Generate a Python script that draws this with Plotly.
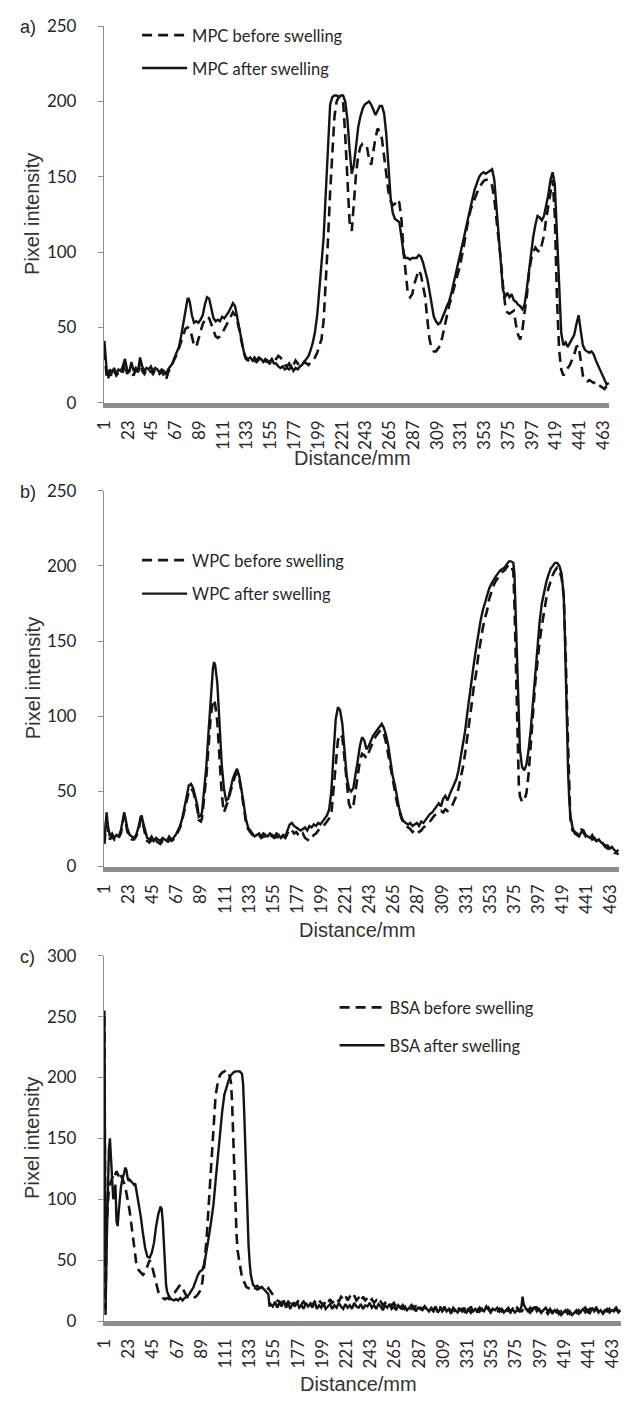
import plotly.graph_objects as go

# ---------------- data: (distance, pixel intensity) ----------------
MPC_BEFORE = [(1,35),(2,25),(3,18),(4,15),(6,20),(8,17),(10,21),(12,18),(14,20),(16,22),(18,20),(20,26),(22,19),(24,22),(26,20),(28,18),(30,22),(32,19),(34,27),(36,21),(38,19),(40,22),(42,20),(44,21),(46,19),(48,22),(50,20),(52,19),(54,21),(56,18),(58,15),(60,20),(62,23),(64,25),(66,29),(68,32),(70,36),(72,40),(74,45),(76,49),(78,50),(80,49),(82,44),(84,38),(86,37),(88,42),(90,48),(92,52),(94,55),(96,57),(98,56),(100,52),(102,47),(104,44),(106,43),(108,44),(110,46),(112,49),(114,52),(116,55),(118,58),(120,60),(122,58),(124,54),(126,48),(128,40),(130,33),(132,29),(134,28),(136,29),(138,27),(140,28),(142,27),(144,29),(146,27),(148,26),(150,28),(152,27),(154,26),(156,28),(158,27),(160,29),(162,31),(164,30),(166,28),(168,25),(170,24),(172,26),(174,23),(176,25),(178,28),(180,26),(182,24),(184,25),(186,27),(188,26),(190,25),(192,27),(194,28),(196,30),(198,33),(200,38),(202,42),(204,55),(206,79),(208,108),(210,140),(212,166),(214,190),(216,200),(218,203),(220,203),(222,200),(224,177),(226,145),(228,120),(230,114),(232,135),(234,152),(236,164),(238,170),(240,172),(242,172),(244,170),(246,162),(248,158),(250,168),(252,176),(254,182),(256,180),(258,175),(260,162),(262,150),(264,140),(266,134),(268,131),(270,132),(272,135),(274,133),(276,122),(278,100),(280,85),(282,72),(284,70),(286,72),(288,79),(290,84),(292,88),(294,85),(296,78),(298,70),(300,55),(302,42),(304,36),(306,34),(308,34),(310,36),(312,38),(314,44),(316,51),(318,58),(320,64),(322,69),(324,75),(326,80),(328,85),(330,90),(332,97),(334,105),(336,114),(338,122),(340,128),(342,132),(344,136),(346,140),(348,143),(350,145),(352,147),(354,148),(356,148),(358,147),(360,144),(362,135),(364,122),(366,110),(368,95),(370,78),(372,65),(374,60),(376,59),(378,60),(380,61),(382,52),(384,45),(386,42),(388,48),(390,60),(392,70),(394,85),(396,95),(398,100),(400,103),(402,101),(404,100),(406,105),(408,111),(410,122),(412,131),(414,142),(416,148),(418,125),(420,70),(422,35),(424,22),(426,18),(428,21),(430,23),(432,25),(434,28),(436,32),(438,37),(440,38),(442,28),(444,18),(446,15),(448,14),(450,15),(452,14),(454,13),(456,14),(458,12),(460,11),(462,10),(464,9),(466,11),(468,12)]

MPC_AFTER = [(1,41),(2,30),(3,22),(4,18),(6,22),(8,20),(10,23),(12,19),(14,22),(16,21),(18,24),(20,29),(22,22),(24,20),(26,27),(28,21),(30,23),(32,20),(34,30),(36,24),(38,21),(40,23),(42,22),(44,24),(46,21),(48,23),(50,22),(52,20),(54,22),(56,21),(58,19),(60,22),(62,24),(64,26),(66,30),(68,33),(70,37),(72,44),(74,52),(76,62),(78,69),(79,69),(80,67),(82,58),(84,53),(86,54),(88,53),(90,55),(92,58),(94,65),(96,70),(98,69),(100,62),(102,56),(104,54),(106,55),(108,54),(110,57),(112,56),(114,58),(116,60),(118,63),(120,66),(122,64),(124,57),(126,50),(128,42),(130,34),(132,30),(134,29),(136,30),(138,28),(140,30),(142,28),(144,30),(146,29),(148,27),(150,29),(152,28),(154,27),(156,29),(158,26),(160,26),(162,24),(164,23),(166,24),(168,22),(170,23),(172,22),(174,24),(176,21),(178,23),(180,22),(182,24),(184,25),(186,27),(188,29),(190,31),(192,35),(194,40),(196,47),(198,58),(200,75),(202,92),(204,110),(206,140),(208,175),(210,198),(212,203),(214,204),(216,204),(218,203),(220,204),(222,204),(224,200),(226,188),(228,168),(230,152),(232,158),(234,172),(236,183),(238,190),(240,195),(242,198),(244,199),(246,200),(248,198),(250,195),(252,191),(254,194),(256,197),(258,197),(260,192),(262,178),(264,155),(266,136),(268,126),(270,122),(272,121),(274,120),(276,110),(278,99),(280,96),(282,96),(284,95),(286,96),(288,96),(290,96),(292,98),(294,97),(296,93),(298,88),(300,82),(302,74),(304,64),(306,57),(308,54),(310,52),(312,53),(314,56),(316,60),(318,64),(320,67),(322,72),(324,78),(326,84),(328,90),(330,97),(332,103),(334,110),(336,117),(338,124),(340,130),(342,136),(344,142),(346,146),(348,150),(350,152),(352,153),(354,152),(356,153),(358,154),(360,155),(362,148),(364,130),(366,111),(368,90),(370,75),(372,70),(374,73),(376,70),(378,72),(380,68),(382,67),(384,65),(386,64),(388,62),(390,65),(392,75),(394,88),(396,100),(398,110),(400,118),(402,124),(404,123),(406,121),(408,124),(410,130),(412,138),(414,148),(416,153),(418,145),(420,110),(422,70),(424,46),(426,38),(428,40),(430,37),(432,40),(434,42),(436,45),(438,52),(440,58),(442,48),(444,38),(446,35),(448,34),(450,33),(452,34),(454,32),(456,28),(458,25),(460,21),(462,18),(464,15),(466,12),(468,13)]

WPC_BEFORE = [(1,15),(2,27),(3,33),(4,25),(5,20),(6,18),(8,20),(10,18),(12,20),(14,19),(16,22),(18,30),(19,34),(20,31),(22,23),(24,19),(26,18),(28,18),(30,20),(32,24),(34,31),(35,32),(36,28),(38,22),(40,17),(42,16),(44,18),(46,15),(48,17),(50,16),(52,15),(54,17),(56,16),(58,15),(60,18),(62,17),(64,18),(66,20),(68,23),(70,26),(72,31),(74,38),(76,45),(78,50),(80,52),(82,50),(84,44),(86,37),(87,31),(89,30),(90,32),(92,45),(94,60),(96,80),(98,100),(100,110),(101,111),(102,108),(104,96),(106,72),(108,48),(110,36),(112,40),(114,44),(116,50),(118,56),(120,60),(122,62),(124,58),(126,50),(128,40),(130,30),(132,25),(134,23),(136,21),(138,20),(140,20),(142,21),(144,19),(146,20),(148,20),(150,19),(152,21),(154,20),(156,19),(158,20),(160,19),(162,18),(164,20),(166,19),(168,22),(170,25),(172,24),(174,22),(176,23),(178,21),(180,20),(182,22),(184,19),(186,18),(188,17),(190,19),(192,21),(194,22),(196,24),(198,25),(200,27),(202,28),(204,30),(206,32),(208,35),(210,50),(212,70),(214,84),(216,88),(218,86),(220,72),(222,55),(224,42),(226,38),(228,40),(230,50),(232,62),(234,70),(236,75),(238,74),(240,72),(242,76),(244,80),(246,83),(248,86),(250,88),(252,90),(254,91),(256,88),(258,82),(260,74),(262,64),(264,57),(266,50),(268,42),(270,37),(272,32),(274,29),(276,27),(278,26),(280,25),(282,23),(284,24),(286,22),(288,23),(290,24),(292,26),(294,27),(296,29),(298,30),(300,32),(302,34),(304,35),(306,36),(308,37),(310,36),(312,38),(314,37),(316,39),(318,40),(320,43),(322,47),(324,52),(326,58),(328,66),(330,75),(332,85),(334,96),(336,108),(338,120),(340,128),(342,140),(344,150),(346,158),(348,165),(350,170),(352,178),(354,183),(356,187),(358,190),(360,192),(362,194),(364,196),(366,197),(368,199),(370,201),(372,200),(374,196),(375,175),(376,145),(377,105),(378,72),(379,55),(380,47),(382,43),(384,44),(386,49),(388,62),(390,80),(392,102),(394,122),(396,138),(398,150),(400,160),(402,170),(404,178),(406,185),(408,190),(410,194),(412,197),(414,199),(416,197),(418,192),(420,180),(421,160),(422,135),(423,105),(424,75),(425,50),(426,32),(428,24),(430,23),(432,22),(434,21),(436,25),(438,22),(440,20),(442,21),(444,20),(446,18),(448,19),(450,17),(452,16),(454,17),(456,15),(458,13),(460,12),(462,11),(464,10),(466,9),(468,9),(470,8)]

WPC_AFTER = [(1,17),(2,30),(3,36),(4,28),(5,22),(6,20),(8,22),(10,19),(12,21),(14,20),(16,24),(18,32),(19,36),(20,33),(22,25),(24,21),(26,20),(28,19),(30,21),(32,26),(34,33),(35,34),(36,30),(38,24),(40,19),(42,18),(44,20),(46,17),(48,19),(50,18),(52,17),(54,19),(56,18),(58,17),(60,20),(62,18),(64,19),(66,21),(68,24),(70,27),(72,32),(74,40),(76,47),(78,54),(80,55),(82,52),(84,46),(86,40),(87,33),(89,34),(90,36),(92,52),(94,67),(96,90),(98,115),(100,132),(101,136),(102,134),(104,122),(106,95),(108,68),(110,52),(112,44),(114,45),(116,52),(118,58),(120,62),(122,65),(124,60),(126,52),(128,42),(130,32),(132,26),(134,24),(136,22),(138,20),(140,21),(142,22),(144,20),(146,22),(148,21),(150,20),(152,22),(154,21),(156,20),(158,22),(160,21),(162,19),(164,21),(166,20),(168,24),(170,28),(172,29),(174,27),(176,26),(178,25),(180,24),(182,25),(184,26),(186,24),(188,27),(190,26),(192,28),(194,27),(196,29),(198,28),(200,30),(202,32),(204,34),(206,38),(208,50),(210,75),(212,98),(214,106),(216,104),(218,95),(220,75),(222,60),(224,52),(226,50),(228,52),(230,60),(232,70),(234,80),(236,86),(238,84),(240,78),(242,80),(244,84),(246,87),(248,89),(250,91),(252,93),(254,95),(256,92),(258,87),(260,80),(262,68),(264,60),(266,54),(268,46),(270,38),(272,33),(274,30),(276,29),(278,28),(280,29),(282,27),(284,28),(286,29),(288,27),(290,30),(292,29),(294,31),(296,33),(298,35),(300,36),(302,38),(304,40),(306,42),(308,40),(310,45),(312,47),(314,44),(316,48),(318,51),(320,54),(322,58),(324,64),(326,72),(328,80),(330,90),(332,102),(334,114),(336,124),(338,135),(340,145),(342,155),(344,163),(346,170),(348,175),(350,180),(352,185),(354,188),(356,191),(358,193),(360,195),(362,197),(364,198),(366,199),(368,201),(370,203),(372,203),(374,202),(375,195),(376,170),(377,140),(378,112),(379,92),(380,78),(382,66),(384,64),(386,68),(388,78),(390,92),(392,110),(394,130),(396,148),(398,163),(400,175),(402,183),(404,189),(406,194),(408,198),(410,200),(412,202),(414,202),(416,200),(418,195),(420,180),(421,155),(422,120),(423,90),(424,62),(425,45),(426,34),(428,26),(430,22),(432,21),(434,20),(436,23),(438,24),(440,21),(442,20),(444,19),(446,21),(448,18),(450,17),(452,18),(454,16),(456,15),(458,14),(460,14),(462,12),(464,13),(466,11),(468,10),(470,11)]

BSA_BEFORE = [(1,250),(2,10),(3,80),(4,100),(5,108),(6,112),(7,115),(8,118),(9,120),(10,118),(11,121),(12,123),(13,121),(14,119),(15,122),(16,120),(17,118),(18,116),(19,113),(20,110),(21,106),(22,100),(24,90),(26,74),(28,58),(30,47),(32,42),(34,40),(36,38),(38,40),(40,45),(42,50),(44,46),(46,38),(48,30),(50,24),(52,21),(54,19),(56,18),(58,19),(60,18),(62,20),(64,22),(66,25),(68,28),(70,30),(72,27),(74,23),(76,20),(78,19),(80,18),(82,19),(84,20),(86,22),(88,25),(90,32),(92,48),(94,70),(96,100),(98,135),(100,165),(102,185),(104,196),(106,202),(108,204),(110,205),(112,206),(114,204),(116,196),(117,180),(118,150),(119,120),(120,92),(121,72),(122,58),(124,45),(126,36),(128,32),(130,28),(132,27),(134,26),(136,28),(138,27),(140,26),(142,27),(144,28),(146,26),(148,25),(150,27),(152,24),(154,22),(156,19),(158,17),(160,16),(162,14),(164,18),(166,13),(168,16),(170,14),(172,17),(174,13),(176,15),(178,18),(180,14),(182,16),(184,13),(186,17),(188,15),(190,13),(192,16),(194,14),(196,17),(198,15),(200,13),(202,16),(204,14),(206,18),(208,15),(210,17),(212,19),(214,16),(216,20),(218,18),(220,21),(222,17),(224,20),(226,18),(228,21),(230,17),(232,19),(234,16),(236,20),(238,17),(240,19),(242,16),(244,18),(246,15),(248,17),(250,14),(252,16),(254,13),(256,15),(258,12),(260,14),(262,13),(264,15),(266,12),(268,14),(270,11),(272,13),(274,10),(276,12),(278,11),(280,13),(282,10),(284,12),(286,9),(288,11),(290,10),(292,12),(294,9),(296,11),(298,10),(300,8),(302,11),(304,9),(306,12),(308,8),(310,10),(312,9),(314,11),(316,8),(318,10),(320,7),(322,11),(324,9),(326,10),(328,8),(330,12),(332,9),(334,7),(336,10),(338,9),(340,11),(342,8),(344,10),(346,7),(348,9),(350,11),(352,8),(354,10),(356,9),(358,7),(360,10),(362,8),(364,11),(366,8),(368,9),(370,7),(372,10),(374,8),(376,11),(378,9),(380,8),(382,10),(384,12),(386,9),(388,7),(390,10),(392,8),(394,11),(396,9),(398,7),(400,10),(402,8),(404,6),(406,9),(408,8),(410,7),(412,10),(414,6),(416,8),(418,5),(420,7),(422,9),(424,6),(426,8),(428,10),(430,7),(432,9),(434,6),(436,8),(438,11),(440,8),(442,10),(444,7),(446,9),(448,11),(450,8),(452,10),(454,7),(456,9),(458,8),(460,10),(462,7),(464,9),(466,11),(468,8),(470,9)]

BSA_AFTER = [(1,255),(2,5),(3,60),(4,110),(5,140),(6,150),(7,135),(8,110),(9,100),(10,105),(11,112),(12,82),(13,78),(14,90),(15,102),(16,110),(17,115),(18,120),(19,122),(20,126),(21,124),(22,118),(23,115),(24,116),(26,114),(28,112),(29,113),(30,108),(32,98),(34,86),(36,72),(38,60),(40,53),(42,52),(44,56),(46,64),(48,78),(50,88),(52,94),(53,92),(54,82),(55,62),(56,42),(57,30),(58,24),(60,20),(62,18),(64,17),(66,18),(68,17),(70,19),(72,17),(74,19),(76,20),(78,22),(80,25),(82,28),(84,33),(86,38),(88,41),(90,42),(92,48),(94,58),(96,70),(98,82),(100,95),(102,115),(104,135),(106,155),(108,172),(110,186),(112,193),(114,198),(116,202),(118,204),(120,205),(122,205),(124,205),(126,203),(127,195),(128,172),(129,145),(130,110),(131,85),(132,62),(133,48),(134,38),(136,30),(138,28),(140,29),(142,27),(144,28),(146,26),(148,24),(150,22),(151,12),(152,14),(154,12),(156,16),(158,11),(160,15),(162,12),(164,17),(166,11),(168,14),(170,10),(172,15),(174,12),(176,16),(178,11),(180,13),(182,10),(184,15),(186,12),(188,14),(190,11),(192,16),(194,10),(196,13),(198,11),(200,15),(202,10),(204,12),(206,14),(208,10),(210,13),(212,11),(214,15),(216,12),(218,10),(220,14),(222,11),(224,13),(226,10),(228,15),(230,12),(232,11),(234,14),(236,10),(238,13),(240,12),(242,15),(244,11),(246,13),(248,10),(250,14),(252,12),(254,9),(256,13),(258,11),(260,14),(262,10),(264,12),(266,9),(268,13),(270,11),(272,10),(274,12),(276,9),(278,11),(280,10),(282,12),(284,8),(286,11),(288,10),(290,9),(292,12),(294,10),(296,8),(298,11),(300,9),(302,12),(304,7),(306,10),(308,9),(310,12),(312,8),(314,10),(316,6),(318,11),(320,9),(322,7),(324,10),(326,8),(328,11),(330,7),(332,9),(334,12),(336,8),(338,10),(340,7),(342,11),(344,9),(346,8),(348,12),(350,9),(352,7),(354,10),(356,9),(358,11),(360,8),(362,10),(364,7),(366,9),(368,11),(370,8),(372,10),(374,7),(376,9),(378,8),(380,12),(381,20),(382,14),(384,10),(386,8),(388,11),(390,9),(392,12),(394,8),(396,10),(398,7),(400,9),(402,11),(404,8),(406,10),(408,6),(410,9),(412,7),(414,8),(416,5),(418,7),(420,9),(422,6),(424,8),(426,5),(428,7),(430,9),(432,6),(434,8),(436,10),(438,7),(440,9),(442,6),(444,11),(446,8),(448,10),(450,7),(452,9),(454,6),(456,8),(458,10),(460,7),(462,9),(464,8),(466,10),(468,7),(470,9)]

X_TICKS = [1, 23, 45, 67, 89, 111, 133, 155, 177, 199, 221, 243, 265, 287, 309, 331, 353, 375, 397, 419, 441, 463]
PANEL_LABELS = ["a)", "b)", "c)"]
NAMES = [("MPC before swelling", "MPC after swelling"),
         ("WPC before swelling", "WPC after swelling"),
         ("BSA before swelling", "BSA after swelling")]
SERIES = [(MPC_BEFORE, MPC_AFTER), (WPC_BEFORE, WPC_AFTER), (BSA_BEFORE, BSA_AFTER)]
N_CATEGORIES = [468, 470, 470]
Y_MAX = [250, 250, 300]
Y_TICKS = [[0, 50, 100, 150, 200, 250], [0, 50, 100, 150, 200, 250], [0, 50, 100, 150, 200, 250, 300]]
X_TITLE = "Distance/mm"
Y_TITLE = "Pixel intensity"

# ---------------- layout geometry (pixels) ----------------
W, H = 627, 1405
LEFT = 95
RIGHT = [612, 622, 624]
TOP = [15.5, 487, 959]
BOTTOM = [397.5, 868.5, 1330]
XTITLE_Y = [454, 933, 1394]
LEGEND_POS = [(129, 7), (129, 540), (331, 994)]
LEGEND_GAP = [8.5, 9, 13.5]

def fx(p):
    return p / W

def fy(p):
    return 1 - p / H

TICK_FONT = dict(family="Lato, Carlito, sans-serif", size=17, color="#262626")
TITLE_FONT = dict(family="Liberation Sans, Arial, sans-serif", size=20, color="#333333")
LINE_COLOR = "#141414"

fig = go.Figure()
layout = dict(width=W, height=H, margin=dict(l=0, r=0, t=0, b=0),
              paper_bgcolor="white", plot_bgcolor="white", showlegend=True)
annotations = []

for i in range(3):
    sfx = "" if i == 0 else str(i + 1)
    before, after = SERIES[i]
    legend_name = "legend" + sfx
    for data, name, dash, width in ((before, NAMES[i][0], "10px,6px", 2.6),
                                    (after, NAMES[i][1], "solid", 2.4)):
        fig.add_trace(go.Scatter(
            x=[p[0] for p in data], y=[p[1] for p in data],
            mode="lines", name=name, legendgroup=name, legend=legend_name,
            line=dict(color=LINE_COLOR, width=width, dash=dash),
            xaxis="x" + sfx, yaxis="y" + sfx, hoverinfo="x+y"))
    layout["xaxis" + sfx] = dict(
        domain=[fx(LEFT), fx(RIGHT[i])], anchor="y" + sfx,
        range=[0.5, N_CATEGORIES[i] + 0.5],
        tickmode="array", tickvals=X_TICKS, ticktext=[str(t) for t in X_TICKS],
        tickangle=-90, tickfont=TICK_FONT, ticks="", ticklabelstandoff=6,
        showline=True, linecolor="#8c8c8c", linewidth=5,
        showgrid=False, zeroline=False)
    layout["yaxis" + sfx] = dict(
        domain=[fy(BOTTOM[i]), fy(TOP[i])], anchor="x" + sfx,
        range=[0, Y_MAX[i]], tickmode="array", tickvals=Y_TICKS[i],
        tickfont=TICK_FONT, ticks="outside", ticklen=5, tickcolor="#8c8c8c",
        ticklabelstandoff=18,
        showline=True, linecolor="#8c8c8c", linewidth=1,
        showgrid=False, zeroline=False)
    layout[legend_name] = dict(
        x=fx(LEGEND_POS[i][0]), y=fy(LEGEND_POS[i][1]), xanchor="left", yanchor="top",
        font=dict(family="Lato, Carlito, sans-serif", size=16.5, color="#262626"),
        bgcolor="rgba(0,0,0,0)", borderwidth=0, itemwidth=45,
        tracegroupgap=LEGEND_GAP[i], traceorder="grouped")
    annotations.append(dict(
        text=Y_TITLE, textangle=-90, xref="paper", yref="paper",
        x=fx(22), y=fy((TOP[i] + BOTTOM[i]) / 2), xanchor="center", yanchor="middle",
        showarrow=False, font=TITLE_FONT))
    annotations.append(dict(
        text=X_TITLE, xref="paper", yref="paper",
        x=fx((LEFT + RIGHT[i]) / 2 - 4), y=fy(XTITLE_Y[i]), xanchor="center", yanchor="middle",
        showarrow=False, font=TITLE_FONT))
    annotations.append(dict(
        text=PANEL_LABELS[i], xref="paper", yref="paper",
        x=fx(17), y=fy(TOP[i] + 1), xanchor="center", yanchor="middle",
        showarrow=False, font=dict(family="Liberation Sans, Arial, sans-serif", size=18, color="#262626")))

layout["annotations"] = annotations
fig.update_layout(**layout)
# remove the browser's default 8px page margin so the figure sits at the window origin
fig.write_html("out.html", config={"displayModeBar": False},
               post_script="document.body.style.margin='0px';")
